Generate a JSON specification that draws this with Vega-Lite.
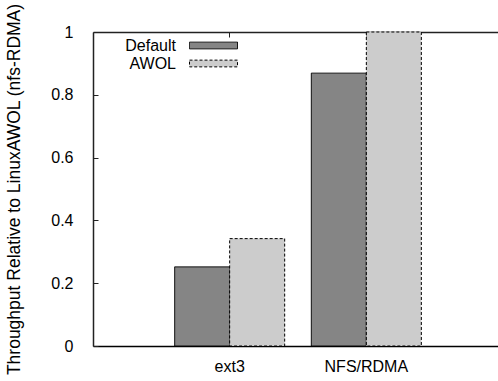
{
  "$schema": "https://vega.github.io/schema/vega-lite/v6.json",
  "autosize": {"type": "none"},
  "width": 405,
  "height": 314,
  "padding": {"left": 93, "top": 32, "right": 0, "bottom": 35},
  "background": "white",
  "config": {
    "view": {"stroke": null},
    "font": "Liberation Sans",
    "axis": {
      "domainColor": "#222222",
      "domainWidth": 1.5,
      "tickColor": "#222222",
      "labelColor": "black",
      "labelFontSize": 16,
      "labelFont": "Liberation Sans",
      "titleFont": "Liberation Sans",
      "titleFontSize": 17.5,
      "titleFontWeight": "normal",
      "titleColor": "black",
      "grid": false
    }
  },
  "data": {
    "values": [
      {"fs": "ext3", "config": "Default", "throughput": 0.252},
      {"fs": "ext3", "config": "AWOL", "throughput": 0.342},
      {"fs": "NFS/RDMA", "config": "Default", "throughput": 0.869},
      {"fs": "NFS/RDMA", "config": "AWOL", "throughput": 1.0}
    ]
  },
  "encoding": {
    "x": {
      "field": "fs",
      "type": "nominal",
      "sort": ["ext3", "NFS/RDMA"],
      "scale": {"domain": ["ext3", "NFS/RDMA"], "range": [0, 410], "paddingInner": 0.195, "paddingOuter": 0.5975}
    },
    "y": {
      "field": "throughput",
      "type": "quantitative",
      "scale": {"domain": [0, 1], "nice": false},
      "axis": {
        "title": "Throughput Relative to LinuxAWOL (nfs-RDMA)",
        "values": [0, 0.2, 0.4, 0.6, 0.8, 1],
        "format": "~g",
        "tickSize": -5,
        "labelPadding": 25,
        "titlePadding": 27
      }
    }
  },
  "layer": [
    {
      "mark": {"type": "bar", "stroke": "black", "strokeWidth": 1},
      "encoding": {
        "x": {
          "field": "fs",
          "type": "nominal",
          "axis": {"orient": "bottom", "title": null, "labelAngle": 0, "ticks": false, "labelPadding": 12, "domainColor": "black"}
        },
        "xOffset": {
          "field": "config",
          "type": "nominal",
          "sort": ["Default", "AWOL"],
          "scale": {"domain": ["Default", "AWOL"], "paddingInner": 0, "paddingOuter": 0}
        },
        "fill": {
          "field": "config",
          "type": "nominal",
          "sort": ["Default", "AWOL"],
          "scale": {"domain": ["Default", "AWOL"], "range": ["#858585", "#cccccc"]},
          "legend": {
            "title": null,
            "orient": "none",
            "legendX": 112,
            "legendY": 5,
            "symbolType": "M-3,-0.42L3,-0.42L3,0.42L-3,0.42Z",
            "symbolSize": 256,
            "symbolStrokeColor": "black",
            "symbolStrokeWidth": 1,
            "labelAlign": "right",
            "labelOffset": -46,
            "labelFontSize": 16,
            "labelFont": "Liberation Sans",
            "labelColor": "black",
            "rowPadding": 1
          }
        },
        "strokeDash": {
          "field": "config",
          "type": "nominal",
          "sort": ["Default", "AWOL"],
          "scale": {"domain": ["Default", "AWOL"], "range": [[1, 0], [3, 2]]},
          "legend": null
        }
      }
    },
    {
      "mark": {"type": "tick", "opacity": 0},
      "encoding": {
        "x": {
          "field": "fs",
          "type": "nominal",
          "axis": {"orient": "top", "title": null, "labels": false, "tickSize": -5, "domainColor": "#222222"}
        }
      }
    }
  ],
  "resolve": {"axis": {"x": "independent"}}
}
